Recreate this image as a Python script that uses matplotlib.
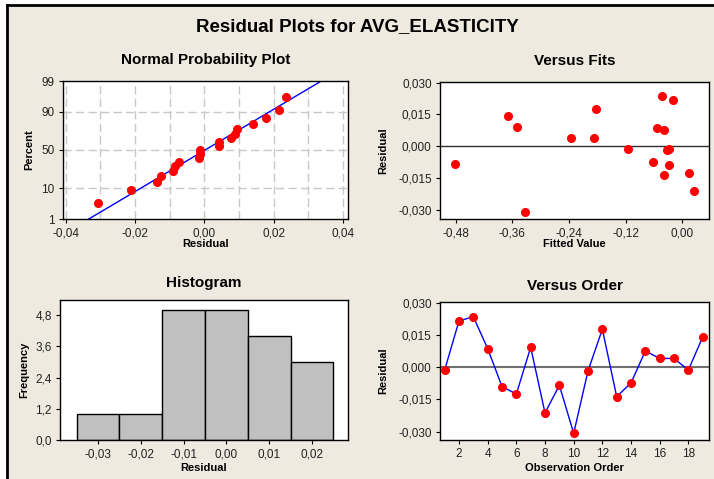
import matplotlib
matplotlib.use("Agg")
import matplotlib.pyplot as plt
from matplotlib.ticker import FuncFormatter, FixedLocator
from matplotlib.lines import Line2D
from statistics import NormalDist
import numpy as np

# ---- data ----
observation = list(range(1, 20))
residuals = [-0.0013, 0.0216, 0.0235, 0.0087, -0.0090, -0.0125, 0.0093, -0.0213,
             -0.0084, -0.0308, -0.0017, 0.0177, -0.0137, -0.0073, 0.0076, 0.0041,
             0.0041, -0.0013, 0.0141]
fitted = [-0.116, -0.0205, -0.042, -0.053, -0.029, 0.0134, -0.351, 0.024,
          -0.482, -0.3325, -0.0325, -0.182, -0.0395, -0.061, -0.0395, -0.235,
          -0.187, -0.0275, -0.369]
hist_centers = [-0.03, -0.02, -0.01, 0.00, 0.01, 0.02]
hist_counts = [1, 1, 5, 5, 4, 3]
prob_ticks = [1, 10, 50, 90, 99]

BG = "#EEEAE0"
W, H = 714, 479
fig = plt.figure(figsize=(W / 100, H / 100), dpi=100, facecolor="white")
plt.rcParams['font.family'] = ['Liberation Sans', 'DejaVu Sans']

# beige panel with black left/top frame
fig.patches.append(plt.Rectangle((7 / W, 0), 1, 1 - 5 / H, transform=fig.transFigure,
                                 facecolor=BG, edgecolor="none", zorder=-10))
fig.lines.append(Line2D([7 / W, 7 / W], [0, 1 - 5 / H], transform=fig.transFigure,
                        color="black", lw=2, zorder=-5))
fig.lines.append(Line2D([7 / W, 1], [1 - 5 / H, 1 - 5 / H], transform=fig.transFigure,
                        color="black", lw=2, zorder=-5))

fig.text(357 / W, 1 - 27 / H, "Residual Plots for AVG_ELASTICITY",
         ha="center", va="center", fontsize=13.5, fontweight="bold")


def add_ax(x0, y0, x1, y1):
    return fig.add_axes([x0 / W, 1 - y1 / H, (x1 - x0) / W, (y1 - y0) / H])


comma = lambda d: FuncFormatter(lambda v, p: f"{v:.{d}f}".replace(".", ","))
TICK_FS = 8.5
LAB_FS = 8
TIT_FS = 11
MS = 5.5


def style(ax):
    ax.set_facecolor("white")
    for s in ax.spines.values():
        s.set_linewidth(1.0)
        s.set_color("black")
    ax.tick_params(labelsize=TICK_FS, length=3, width=0.8, colors="black",
                   labelcolor="#222222", pad=3)


nd = NormalDist()
res = np.array(residuals)
n = len(res)

# ---- Normal probability plot ----
ax1 = add_ax(63, 81, 348, 219)
style(ax1)
sorted_res = np.sort(res)
ranks = (np.arange(1, n + 1) - 0.3) / (n + 0.4)
z = np.array([nd.inv_cdf(p) for p in ranks])
mu, sd = res.mean(), res.std(ddof=1)
zl = np.linspace(nd.inv_cdf(0.005), nd.inv_cdf(0.995), 50)
ax1.plot(mu + sd * zl, zl, color="#0000FF", lw=1.0, zorder=2)
ax1.plot(sorted_res, z, "o", color="#FF0000", ms=MS, zorder=3)
ax1.set_xlim(-0.0408, 0.0414)
ax1.set_ylim(nd.inv_cdf(0.01), nd.inv_cdf(0.99))
ax1.yaxis.set_major_locator(FixedLocator([nd.inv_cdf(p / 100) for p in prob_ticks]))
ax1.set_yticklabels([str(p) for p in prob_ticks])
ax1.set_xticks([-0.04, -0.02, 0.0, 0.02, 0.04])
ax1.xaxis.set_major_formatter(comma(2))
for gx in np.arange(-0.04, 0.041, 0.01):
    ax1.axvline(gx, color="#C8C8C8", ls=(0, (6, 3)), lw=1.0, zorder=1)
for p in [10, 50, 90]:
    ax1.axhline(nd.inv_cdf(p / 100), color="#C8C8C8", ls=(0, (6, 3)), lw=1.0, zorder=1)
ax1.set_title("Normal Probability Plot", fontsize=TIT_FS, fontweight="bold", pad=12)
ax1.set_xlabel("Residual", fontsize=LAB_FS, fontweight="bold", labelpad=0)
ax1.set_ylabel("Percent", fontsize=LAB_FS, fontweight="bold", labelpad=5)

# ---- Versus Fits ----
ax2 = add_ax(440, 82, 709, 219)
style(ax2)
ax2.axhline(0, color="#303030", lw=1.0, zorder=1)
ax2.plot(fitted, residuals, "o", color="#FF0000", ms=MS, zorder=3)
ax2.set_xlim(-0.513, 0.0565)
ax2.set_ylim(-0.0343, 0.0303)
ax2.set_xticks([-0.48, -0.36, -0.24, -0.12, 0.0])
ax2.set_yticks([-0.030, -0.015, 0.0, 0.015, 0.030])
ax2.xaxis.set_major_formatter(comma(2))
ax2.yaxis.set_major_formatter(comma(3))
ax2.set_title("Versus Fits", fontsize=TIT_FS, fontweight="bold", pad=12)
ax2.set_xlabel("Fitted Value", fontsize=LAB_FS, fontweight="bold", labelpad=0)
ax2.set_ylabel("Residual", fontsize=LAB_FS, fontweight="bold", labelpad=7)

# ---- Histogram ----
ax3 = add_ax(60, 300, 348, 440)
style(ax3)
ax3.bar(hist_centers, hist_counts, width=0.01, color="#C0C0C0",
        edgecolor="black", linewidth=1.0)
ax3.set_xlim(-0.0389, 0.0284)
ax3.set_ylim(0, 5.376)
ax3.set_xticks(hist_centers)
ax3.set_yticks([0.0, 1.2, 2.4, 3.6, 4.8])
ax3.xaxis.set_major_formatter(comma(2))
ax3.yaxis.set_major_formatter(comma(1))
ax3.set_title("Histogram", fontsize=TIT_FS, fontweight="bold", pad=9)
ax3.set_xlabel("Residual", fontsize=LAB_FS, fontweight="bold", labelpad=2)
ax3.set_ylabel("Frequency", fontsize=LAB_FS, fontweight="bold", labelpad=4)

# ---- Versus Order ----
ax4 = add_ax(440, 302, 709, 440)
style(ax4)
ax4.axhline(0, color="#707070", lw=1.5, zorder=1)
ax4.plot(observation, residuals, "-", color="#0000FF", lw=1.0, zorder=2)
ax4.plot(observation, residuals, "o", color="#FF0000", ms=MS, zorder=3)
ax4.set_xlim(0.674, 19.44)
ax4.set_ylim(-0.0339, 0.0304)
ax4.set_xticks(range(2, 19, 2))
ax4.set_yticks([-0.030, -0.015, 0.0, 0.015, 0.030])
ax4.yaxis.set_major_formatter(comma(3))
ax4.set_title("Versus Order", fontsize=TIT_FS, fontweight="bold", pad=9)
ax4.set_xlabel("Observation Order", fontsize=LAB_FS, fontweight="bold", labelpad=2)
ax4.set_ylabel("Residual", fontsize=LAB_FS, fontweight="bold", labelpad=7)

fig.savefig("out.png", dpi=100, facecolor="white")
